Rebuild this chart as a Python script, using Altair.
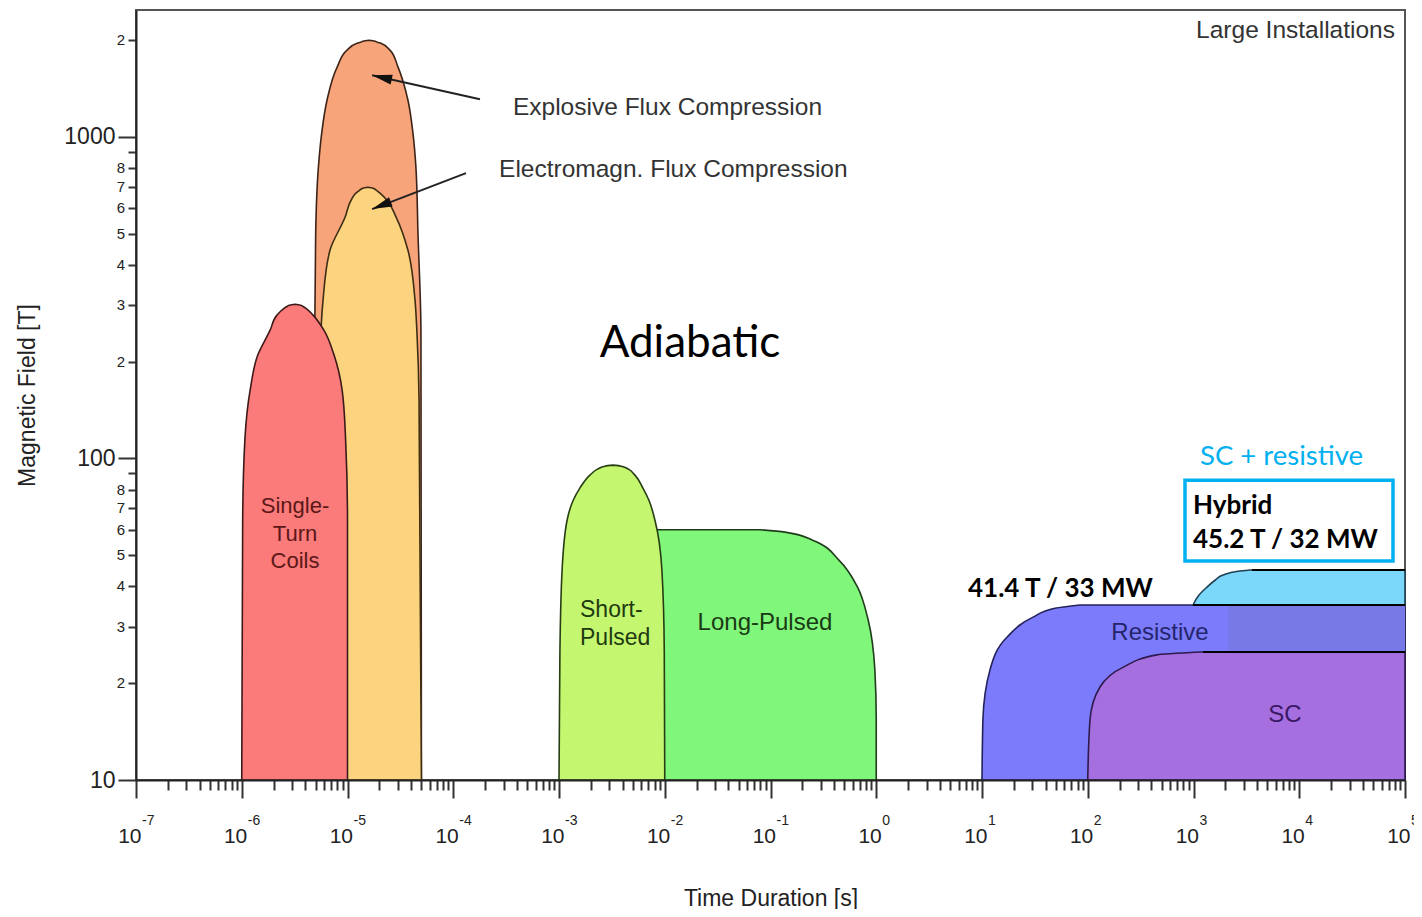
import json
import altair as alt
import pandas as pd

# ---------------- scales / ticks ----------------
X_DOMAIN = [1e-7, 1e5]
Y_DOMAIN = [10, 2480]

x_major_exponents = [-7, -6, -5, -4, -3, -2, -1, 0, 1, 2, 3, 4, 5]
x_exponent_labels = ["-7", "-6", "-5", "-4", "-3", "-2", "-1", "0", "1", "2", "3", "4", "5"]
minor_digits = [2, 3, 4, 5, 6, 7, 8, 9]

y_major_values = [10, 100, 1000]
y_major_labels = ["10", "100", "1000"]
y_minor_values = [20, 30, 40, 50, 60, 70, 80, 90, 200, 300, 400, 500, 600, 700, 800, 900, 2000]
y_minor_labels = ["2", "3", "4", "5", "6", "7", "8", "", "2", "3", "4", "5", "6", "7", "8", "", "2"]

# ---------------- regions (field B [T] vs left / right time edge [s]) ----------------
efc_B = [10, 245, 500, 800, 1025, 1300, 1650, 1860, 1955, 1968, 1982, 1997]
efc_left = [4.9e-6, 4.9e-6, 5.0e-6, 5.3e-6, 5.7e-6, 6.4e-6, 8.0e-6, 9.9e-6, 1.23e-5, 1.33e-5, 1.40e-5, 1.6e-5]
efc_right = [5.0e-5, 4.95e-5, 4.64e-5, 4.44e-5, 4.16e-5, 3.73e-5, 3.0e-5, 2.52e-5, 2.07e-5, 1.92e-5, 1.82e-5, 1.6e-5]

emfc_B = [10, 152, 245, 310, 444, 563, 635, 668, 682, 687, 692, 697]
emfc_left = [5.5e-6, 5.56e-6, 5.62e-6, 5.87e-6, 6.83e-6, 9.5e-6, 1.08e-5, 1.2e-5, 1.3e-5, 1.34e-5, 1.4e-5, 1.56e-5]
emfc_right = [5.0e-5, 4.75e-5, 4.54e-5, 4.35e-5, 3.73e-5, 2.88e-5, 2.36e-5, 2.03e-5, 1.88e-5, 1.82e-5, 1.74e-5, 1.56e-5]

stc_B = [10, 64, 114, 163, 210, 250, 279, 293, 297.5, 299.6, 301.5]
stc_left = [1.0e-6, 1.02e-6, 1.07e-6, 1.2e-6, 1.42e-6, 1.85e-6, 2.15e-6, 2.51e-6, 2.7e-6, 2.83e-6, 3.19e-6]
stc_right = [1.0e-5, 1.0e-5, 9.6e-6, 8.9e-6, 7.45e-6, 6.0e-6, 4.72e-6, 4.05e-6, 3.77e-6, 3.59e-6, 3.19e-6]

lp_B = [10, 15.4, 22, 31.4, 40, 48, 55.7, 59, 60]
lp_left = [6e-3, 6e-3, 6e-3, 6e-3, 6e-3, 6e-3, 6e-3, 6e-3, 6e-3]
lp_right = [1.0, 1.0, 0.97, 0.84, 0.66, 0.45, 0.25, 0.137, 0.08]

sp_B = [10, 25, 45, 64, 74, 81, 88.7, 92.6, 94.0, 94.6, 95.3]
sp_left = [1.0e-3, 1.02e-3, 1.07e-3, 1.19e-3, 1.36e-3, 1.58e-3, 1.96e-3, 2.31e-3, 2.55e-3, 2.72e-3, 3.24e-3]
sp_right = [1.0e-2, 9.9e-3, 9.4e-3, 8.1e-3, 7.1e-3, 6.2e-3, 5.23e-3, 4.54e-3, 4.12e-3, 3.86e-3, 3.24e-3]

res_B = [10, 15.4, 22, 27.8, 32.1, 34.2, 35]
res_left = [10, 10.2, 11.9, 17.2, 30.4, 49, 84.5]
res_right = [1e5, 1e5, 1e5, 1e5, 1e5, 1e5, 1e5]

sc_B = [10, 15.4, 19.5, 22.4, 24.5, 25]
sc_left = [100, 105, 131, 215, 452, 1150]
sc_right = [1e5, 1e5, 1e5, 1e5, 1e5, 1e5]

hyb_B = [35, 37.6, 39.8, 41.8, 43.4, 44.6, 45]
hyb_left = [990, 1127, 1342, 1597, 1901, 2636, 3422]
hyb_right = [1e5, 1e5, 1e5, 1e5, 1e5, 1e5, 1e5]

patch_t = [2120, 1e5]
patch_B = [25, 35]

level_line_start = [3570, 990, 1229]
level_line_end = [1e5, 1e5, 1e5]
level_line_B = [45, 35, 25]

# ---------------- annotations ----------------
arrow_from_t = [1.79e-4, 1.32e-4]
arrow_from_B = [1309, 771]
arrow_to_t = [1.71e-5, 1.71e-5]
arrow_to_B = [1554, 596]
arrow_angle = [192.5, 159]

note_text = ["Explosive Flux Compression", "Electromagn. Flux Compression"]
note_t = [3.67e-4, 2.71e-4]
note_B = [1167, 749]

corner_text = ["Large Installations"]
corner_t = [8.04e4]
corner_B = [2025]

stc_text = ["Single-", "Turn", "Coils"]
stc_text_t = [3.19e-6, 3.19e-6, 3.19e-6]
stc_text_B = [67.6, 55.3, 45.6]

sp_text = ["Short-", "Pulsed"]
sp_text_t = [1.58e-3, 1.58e-3]
sp_text_B = [32.1, 26.3]

lp_text = ["Long-Pulsed"]
lp_text_t = [0.0887]
lp_text_B = [29.3]

res_text = ["Resistive"]
res_text_t = [482]
res_text_B = [27.2]

sc_text = ["SC"]
sc_text_t = [7330]
sc_text_B = [15.15]

adia_text = ["Adiabatic"]
adia_t = [0.01733]
adia_B = [206.5]

record_text = ["41.4 T / 33 MW"]
record_t = [7.37]
record_B = [37.06]

sc_res_text = ["SC + resistive"]
sc_res_t = [1152]
sc_res_B = [95.3]

box_t = [831, 7.7e4]
box_B = [47.96, 85.6]

hybrid_text = ["Hybrid", "45.2 T / 32 MW"]
hybrid_t = [990, 990]
hybrid_B = [67.1, 52.6]

# ---------------- scales / axes ----------------
xs = alt.Scale(type="log", domain=X_DOMAIN, nice=False)
ys = alt.Scale(type="log", domain=Y_DOMAIN, nice=False)

x_tick_values = [10.0 ** e for e in x_major_exponents] + [
    d * 10.0 ** e for e in x_major_exponents[:-1] for d in minor_digits
]
y_tick_values = y_major_values + y_minor_values

X_MAJOR = "abs(log(datum.value)/LN10 - round(log(datum.value)/LN10)) < 0.001"
Y_IDX = f"indexof({json.dumps(y_major_values)}, datum.value)"
Y_MAJOR = f"{Y_IDX} >= 0"

X_AXIS = dict(
    values=x_tick_values,
    labelExpr=f"({X_MAJOR}) ? '10' : ''",
    tickSize=18,
    tickDash={"condition": {"test": X_MAJOR, "value": [40, 1]}, "value": [10, 40]},
    tickWidth=2, tickColor="#333", domainColor="#222", domainWidth=2,
    labelAlign="right", labelOffset=5, labelBaseline="alphabetic", labelPadding=44,
    labelFont="Liberation Sans", labelFontSize=21, labelColor="#222",
    labelOverlap=False, grid=False, zindex=1,
    title="Time Duration [s]", titleFont="Liberation Sans", titleFontSize=23,
    titleFontWeight="normal", titleColor="#222", titlePadding=41,
)

Y_AXIS = dict(
    values=y_tick_values,
    labelExpr=f"({Y_MAJOR}) ? {json.dumps(y_major_labels)}[{Y_IDX}] : ''",
    tickSize=18,
    tickDash={"condition": {"test": Y_MAJOR, "value": [40, 1]}, "value": [8, 40]},
    labelFontSize=23,
    tickWidth=2, tickColor="#333", domainColor="#222", domainWidth=2,
    labelPadding=3, labelBaseline="middle", labelAlign="right",
    labelFont="Liberation Sans", labelColor="#222",
    labelOverlap=False, grid=False, zindex=1,
    title="Magnetic Field [T]", titleFont="Liberation Sans", titleFontSize=23,
    titleFontWeight="normal", titleColor="#222",
    titleX=-102, titleY=385, titleBaseline="alphabetic", titleAlign="center",
)


def X(field):
    return alt.X(field, type="quantitative", scale=xs, axis=alt.Axis(**X_AXIS))


def Y(field):
    return alt.Y(field, type="quantitative", scale=ys, axis=alt.Axis(**Y_AXIS))


def region(B, left, right, fill, stroke):
    df = pd.DataFrame({"B": B, "L": left, "R": right})
    return alt.Chart(df).mark_area(
        orient="horizontal", interpolate="monotone", color=fill, fill=fill,
        stroke=stroke, strokeWidth=1.6, opacity=1,
    ).encode(y=Y("B"), x=X("L"), x2="R:Q")


def texts(t, B, labels, **kw):
    df = pd.DataFrame({"t": t, "B": B, "label": labels})
    return alt.Chart(df).mark_text(**kw).encode(x=X("t"), y=Y("B"), text="label:N")


ARIAL = "Liberation Sans"
CALIBRI = "Lato"

layers = [
    region(efc_B, efc_left, efc_right, "#f8a47b", "#3d2418"),
    region(emfc_B, emfc_left, emfc_right, "#fcd47f", "#3d2e14"),
    region(stc_B, stc_left, stc_right, "#fb7a7a", "#3d1a1a"),
    region(lp_B, lp_left, lp_right, "#80f67b", "#1f3d1a"),
    region(sp_B, sp_left, sp_right, "#c5f66f", "#273d14"),
    region(res_B, res_left, res_right, "#7b7bfc", "#23235a"),
    region(sc_B, sc_left, sc_right, "#a66fe0", "#2e1a4d"),
    region(hyb_B, hyb_left, hyb_right, "#7bd8fb", "#1f3f52"),
]

patch_df = pd.DataFrame({"t0": [patch_t[0]], "t1": [patch_t[1]], "b0": [patch_B[0]], "b1": [patch_B[1]]})
layers.append(
    alt.Chart(patch_df).mark_rect(color="#7879e6").encode(
        x=X("t0"), x2="t1:Q", y=Y("b0"), y2="b1:Q",
    )
)

lines_df = pd.DataFrame({"t0": level_line_start, "t1": level_line_end, "B": level_line_B})
layers.append(
    alt.Chart(lines_df).mark_rule(color="#000", strokeWidth=2).encode(
        x=X("t0"), x2="t1:Q", y=Y("B"),
    )
)

exp_df = pd.DataFrame({"t": [10.0 ** e for e in x_major_exponents], "label": x_exponent_labels})
layers.append(
    alt.Chart(exp_df).mark_text(
        align="left", baseline="alphabetic", font=ARIAL, fontSize=14, color="#222", dx=6,
    ).encode(x=X("t"), y=alt.value(815), text="label:N")
)

ymin_df = pd.DataFrame({"B": y_minor_values, "label": y_minor_labels})
layers.append(
    alt.Chart(ymin_df).mark_text(
        align="right", baseline="middle", font=ARIAL, fontSize=15, color="#222",
    ).encode(y=Y("B"), x=alt.value(-11), text="label:N")
)

layers += [
    texts(note_t, note_B, note_text, align="left", baseline="alphabetic", font=ARIAL, fontSize=24.5, color="#333"),
    texts(corner_t, corner_B, corner_text, align="right", baseline="alphabetic", font=ARIAL, fontSize=24.5, color="#333"),
    texts(stc_text_t, stc_text_B, stc_text, align="center", baseline="alphabetic", font=ARIAL, fontSize=22, color="#5a1818"),
    texts(sp_text_t, sp_text_B, sp_text, align="left", baseline="alphabetic", font=ARIAL, fontSize=23, color="#1e3a10"),
    texts(lp_text_t, lp_text_B, lp_text, align="center", baseline="alphabetic", font=ARIAL, fontSize=24, color="#1a3a14"),
    texts(res_text_t, res_text_B, res_text, align="center", baseline="alphabetic", font=ARIAL, fontSize=24, color="#25256b"),
    texts(sc_text_t, sc_text_B, sc_text, align="center", baseline="alphabetic", font=ARIAL, fontSize=24, color="#3a1866"),
    texts(adia_t, adia_B, adia_text, align="center", baseline="alphabetic", font=CALIBRI, fontSize=44, color="#000"),
    texts(record_t, record_B, record_text, align="left", baseline="alphabetic", font=CALIBRI, fontSize=26, fontWeight="bold", color="#000"),
    texts(sc_res_t, sc_res_B, sc_res_text, align="left", baseline="alphabetic", font=CALIBRI, fontSize=27.5, color="#00b0f0"),
]

arrow_df = pd.DataFrame({
    "t0": arrow_from_t, "b0": arrow_from_B, "t1": arrow_to_t, "b1": arrow_to_B, "ang": arrow_angle,
})
layers.append(
    alt.Chart(arrow_df).mark_rule(color="#222", strokeWidth=2).encode(
        x=X("t0"), y=Y("b0"), x2="t1:Q", y2="b1:Q",
    )
)
layers.append(
    alt.Chart(arrow_df).mark_point(
        shape="M0,0 L-2,-0.5 L-2,0.5 Z", filled=True, size=400, color="#111", opacity=1, strokeWidth=0,
    ).encode(x=X("t1"), y=Y("b1"), angle=alt.Angle("ang:Q", scale=None))
)

box_df = pd.DataFrame({"t0": [box_t[0]], "t1": [box_t[1]], "b0": [box_B[0]], "b1": [box_B[1]]})
layers.append(
    alt.Chart(box_df).mark_rect(fill="#ffffff", stroke="#00b0f0", strokeWidth=3.5).encode(
        x=X("t0"), x2="t1:Q", y=Y("b0"), y2="b1:Q",
    )
)
layers.append(
    texts(hybrid_t, hybrid_B, hybrid_text, align="left", baseline="alphabetic", font=CALIBRI, fontSize=26, fontWeight="bold", color="#000")
)

chart = alt.layer(*layers).properties(
    width=1269,
    height=770,
    padding={"left": 128, "top": 2, "right": 9, "bottom": 129},
    autosize=alt.AutoSizeParams(type="none"),
    background="#ffffff",
).configure_view(stroke="#555", strokeWidth=2)

chart.save("out.html", embed_options={"renderer": "svg", "actions": False})
